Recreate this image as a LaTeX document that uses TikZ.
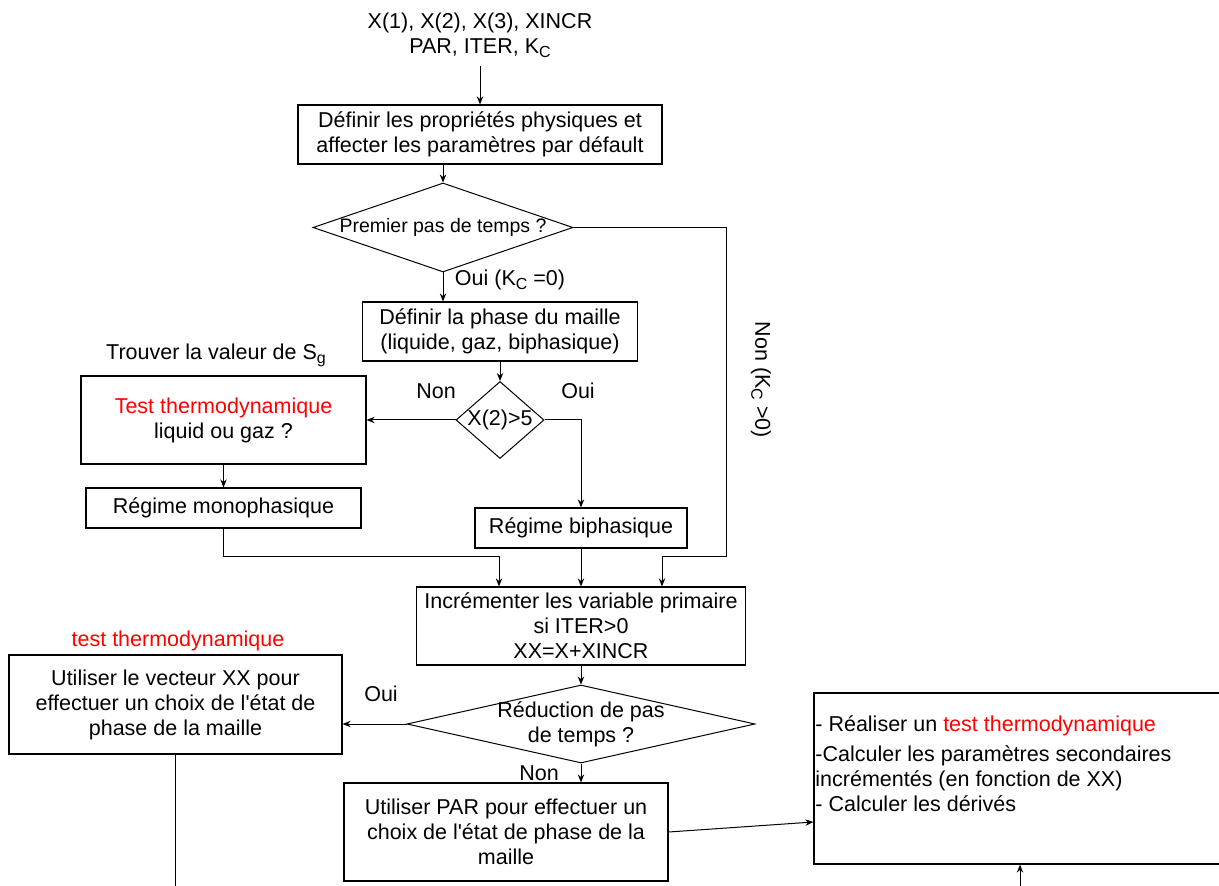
\documentclass[tikz,border=0pt]{standalone}
\usepackage{fontspec}
\setmainfont{Liberation Sans}
\usepackage{xcolor}
\usepackage{tikz}
\usetikzlibrary{positioning,arrows.meta,shapes.geometric,calc}
\definecolor{testred}{HTML}{FF0000}
\newcommand{\flowsize}{\fontsize{10.75pt}{12.5pt}\selectfont}
\newcommand{\smallflow}{\fontsize{9.75pt}{11.5pt}\selectfont}
\newcommand{\lowsub}[1]{\raisebox{-2pt}{\fontsize{8pt}{9pt}\selectfont #1}}
\tikzset{
  box/.style={rectangle, draw, line width=0.6pt, align=center, inner sep=2pt,
              font=\flowsize},
  dec/.style={diamond, draw, line width=0.5pt, inner sep=0pt},
  ar/.style={-{Stealth[length=4pt,width=3.2pt]}, line width=0.5pt},
  ln/.style={line width=0.5pt},
  lbl/.style={font=\flowsize, inner sep=1pt, align=center},
}

\begin{document}
\begin{tikzpicture}[x=0.5pt,y=-0.5pt]
  \useasboundingbox (0,0) rectangle (1219,886);

  % inputs and first steps
  \node[lbl, inner sep=4pt] (inputs) at (480,35) {X(1), X(2), X(3), XINCR\\PAR, ITER, K\lowsub{C}};
  \node[box, minimum width=182pt, minimum height=29.5pt] (prop) at (480,134.5)
    {Définir les propriétés physiques et\\affecter les paramètres par défault};
  \node[dec, minimum width=130pt, minimum height=44.5pt,
        label={[lbl,font=\smallflow]center:Premier pas de temps ?}] (first) at (443,227.5) {};
  \node[box, minimum width=137.5pt, minimum height=29.5pt] (phase) at (500,331.5)
    {Définir la phase du maille\\(liquide, gaz, biphasique)};
  \node[dec, minimum width=44pt, minimum height=38.5pt,
        label={[lbl]center:X(2)>5}] (xtest) at (500,420) {};

  % phase branches
  \node[lbl] (sgtxt) at (216,355) {Trouver la valeur de S\lowsub{g}};
  \node[box, minimum width=142.5pt, minimum height=44pt] (thermo) at (223.5,420)
    {\textcolor{testred}{Test thermodynamique}\\liquid ou gaz ?};
  \node[box, minimum width=137.5pt, minimum height=20pt] (mono) at (223.5,508) {Régime monophasique};
  \node[box, minimum width=106pt, minimum height=20pt] (bi) at (581,528) {Régime biphasique};

  % increment and time step
  \node[box, minimum width=164.5pt, minimum height=39pt] (incr) at (581,626)
    {Incrémenter les variable primaire\\si ITER>0\\XX=X+XINCR};
  \node[dec, minimum width=174pt, minimum height=39pt,
        label={[lbl]center:Réduction de pas\\de temps ?}] (reduc) at (581,724) {};
  \node[lbl, text=testred] (thermolbl) at (178,641) {test thermodynamique};
  \node[box, minimum width=166.5pt, minimum height=49.5pt] (vect) at (175.5,704.5)
    {Utiliser le vecteur XX pour\\effectuer un choix de l\textquotesingle état de\\phase de la maille};
  \node[box, minimum width=162pt, minimum height=49pt] (par) at (506,832)
    {Utiliser PAR pour effectuer un\\choix de l\textquotesingle état de phase de la\\maille};
  \node[box, minimum width=215pt, minimum height=85.5pt] (calc) at (1029,778.5) {};
  \node[lbl, align=left, anchor=west, inner sep=0pt] (calctxt) at (815,764)
    {- Réaliser un \textcolor{testred}{test thermodynamique}\\[2.5pt]
     -Calculer les paramètres secondaires\\incrémentés (en fonction de XX)\\- Calculer les dérivés};

  % branch labels
  \node[lbl] (ouiK) at (510,280) {Oui (K\lowsub{C} =0)};
  \node[lbl, rotate=-90] (nonK) at (761,380) {Non (K\lowsub{C} >0)};
  \node[lbl] (non2) at (436,391) {Non};
  \node[lbl] (oui2) at (578,391) {Oui};
  \node[lbl] (oui3) at (381,694) {Oui};
  \node[lbl] (non3) at (539,773) {Non};

  % connectors
  \coordinate (nonturn) at (726,557);
  \coordinate (vdown) at (175.5,900);
  \coordinate (back) at (1020,900);
  \draw[ar] (inputs) -- (prop);
  \draw[ar] (prop.south -| first.north) -- (first.north);
  \draw[ar] (first.south) -- (first.south |- phase.north);
  \draw[ar] (first.east) -| (nonturn) -| ($(incr.north)+(81,0)$);
  \draw[ar] (phase) -- (xtest);
  \draw[ar] (xtest.west) -- (thermo.east);
  \draw[ar] (xtest.east) -| (bi.north);
  \draw[ar] (thermo) -- (mono);
  \draw[ar] (mono.south) |- ($(incr.north)+(-82,-30)$) -- ($(incr.north)+(-82,0)$);
  \draw[ar] (bi) -- (incr);
  \draw[ar] (incr) -- (reduc);
  \draw[ar] (reduc.west) -- (reduc.west -| vect.east);
  \draw[ar] (reduc.south) -- (reduc.south |- par.north);
  \draw[ln] (vect.south) -- (vdown);
  \draw[ar] (par.east) -- ($(calc.west)+(0,43.5)$);
  \draw[ar] (back) -- (back |- calc.south);
\end{tikzpicture}
\end{document}
